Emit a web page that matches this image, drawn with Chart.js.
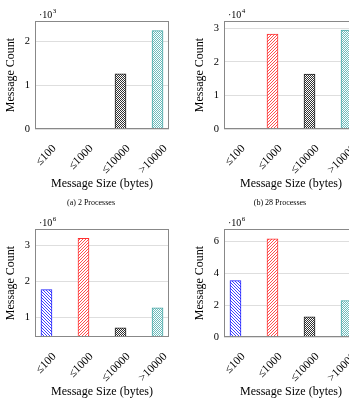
<!DOCTYPE html>
<html>
<head>
<meta charset="utf-8">
<script src="https://cdn.jsdelivr.net/npm/chart.js@4.4.1/dist/chart.umd.min.js"></script>
<style>
  body { margin: 0; width: 349px; height: 401px; overflow: hidden; background: #fff; position: relative; }
  .panel { position: absolute; width: 175px; height: 210px; }
</style>
</head>
<body>
<div class="panel" style="left:0;top:0"><canvas id="c0"></canvas></div>
<div class="panel" style="left:189px;top:0"><canvas id="c1"></canvas></div>
<div class="panel" style="left:0;top:208px"><canvas id="c2"></canvas></div>
<div class="panel" style="left:189px;top:208px"><canvas id="c3"></canvas></div>
<script>
const categories = ['≤100', '≤1000', '≤10000', '>10000'];
// message counts, in units of 10^exponent
const counts2 = [0.004, 0.006, 1.26, 2.25];
const counts28 = [0.005, 2.83, 1.64, 2.95];
const countsC = [1.77, 3.2, 0.705, 1.26];
const countsD = [3.54, 6.16, 1.27, 2.29];
const exponents = ['3', '4', '6', '6'];
const captions = ['(a) 2 Processes', '(b) 28 Processes', '', ''];

const FONT = 'Liberation Serif';
Chart.defaults.font.family = FONT;
Chart.defaults.color = '#000';

function makePattern(kind, color) {
  const t = document.createElement('canvas');
  const s = kind === 'dots' ? 2 : 3;
  t.width = s; t.height = s;
  const g = t.getContext('2d');
  g.fillStyle = '#fff';
  g.fillRect(0, 0, s, s);
  g.fillStyle = color;
  if (kind === 'nw') for (let i = 0; i < s; i++) g.fillRect(i, i, 1, 1);
  if (kind === 'ne') for (let i = 0; i < s; i++) g.fillRect(s - 1 - i, i, 1, 1);
  if (kind === 'dots') { g.fillRect(0, 0, 1, 1); g.fillRect(1, 1, 1, 1); }
  return g.createPattern(t, 'repeat');
}

const fills = [
  makePattern('nw', '#4040ff'),
  makePattern('ne', '#ff5050'),
  makePattern('dots', '#333'),
  makePattern('dots', '#6cbcbc')
];
const borders = ['#2020ff', '#ff3030', '#222', '#4aa8a8'];

const decor = {
  id: 'decor',
  afterDraw(chart) {
    const { ctx, chartArea: a } = chart;
    const o = chart.options.plugins.decor;
    ctx.save();
    ctx.strokeStyle = '#888';
    ctx.lineWidth = 1;
    ctx.strokeRect(Math.round(a.left) + 0.5, Math.round(a.top) + 0.5,
      Math.round(a.right - a.left) - 1, Math.round(a.bottom - a.top) - 1);
    ctx.fillStyle = '#000';
    ctx.textBaseline = 'middle';
    ctx.font = '10px ' + FONT;
    const base = '·10';
    ctx.fillText(base, a.left + 4, a.top - 6);
    const w = ctx.measureText(base).width;
    ctx.font = '7px ' + FONT;
    ctx.fillText(o.exponent, a.left + 4 + w + 0.5, a.top - 10);
    if (o.caption) {
      ctx.font = '8px ' + FONT;
      ctx.textAlign = 'center';
      ctx.fillText(o.caption, a.left + 56, 203);
    }
    ctx.restore();
  }
};

function drawPanel(id, values, yMin, yMax, yStep, exponent, caption) {
  new Chart(document.getElementById(id), {
    type: 'bar',
    data: {
      datasets: [{
        data: values.map((v, i) => ({ x: i, y: v })),
        backgroundColor: fills,
        borderColor: borders,
        borderWidth: 1,
        barThickness: 11
      }]
    },
    options: {
      responsive: true,
      maintainAspectRatio: false,
      animation: false,
      layout: { padding: { top: 21, right: 6, left: 0, bottom: 0 } },
      plugins: {
        legend: { display: false },
        tooltip: { enabled: false },
        decor: { exponent: exponent, caption: caption }
      },
      scales: {
        x: {
          type: 'linear',
          offset: false,
          min: -0.31,
          max: 3.31,
          grid: { display: false, offset: false },
          border: { display: false },
          ticks: {
            stepSize: 1, includeBounds: false, autoSkip: false,
            minRotation: 45, maxRotation: 45, labelOffset: 8, padding: 5,
            font: { size: 11.5 },
            callback: v => categories[v]
          },
          title: {
            display: true, text: 'Message Size (bytes)',
            font: { size: 12 }, padding: { top: 0, bottom: 19 }
          },
          afterFit: s => { s.height = 81; }
        },
        y: {
          min: yMin,
          max: yMax,
          grid: { color: '#dedede', drawTicks: false },
          border: { display: false },
          ticks: { stepSize: yStep, includeBounds: false, padding: 5, font: { size: 10.5 } },
          title: {
            display: true, text: 'Message Count',
            font: { size: 12 }, padding: { top: 4, bottom: 0 }
          },
          afterFit: s => { s.width = 35; }
        }
      }
    },
    plugins: [decor]
  });
}

drawPanel('c0', counts2, 0, 2.47, 1, exponents[0], captions[0]);
drawPanel('c1', counts28, 0, 3.22, 1, exponents[1], captions[1]);
drawPanel('c2', countsC, 0.45, 3.46, 1, exponents[2], captions[2]);
drawPanel('c3', countsD, 0, 6.78, 2, exponents[3], captions[3]);
</script>
</body>
</html>
